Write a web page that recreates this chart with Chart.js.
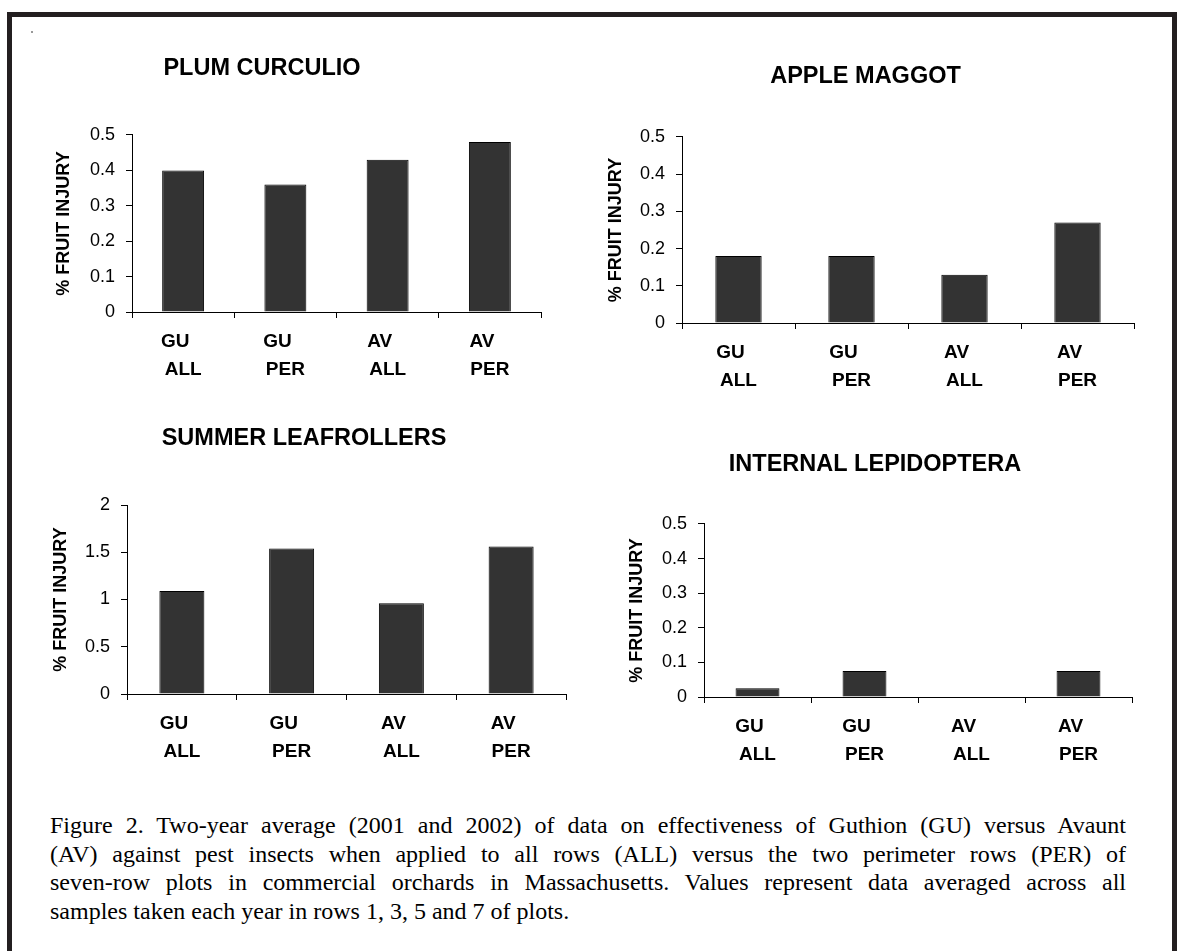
<!DOCTYPE html>
<html>
<head>
<meta charset="utf-8">
<script src="https://cdn.jsdelivr.net/npm/chart.js@4.4.1/dist/chart.umd.min.js"></script>
<style>
  html, body { margin: 0; padding: 0; background: #fff; overflow: hidden; }
  body { width: 1177px; height: 951px; position: relative; }
  #frame { position: absolute; left: 7px; top: 12px; width: 1160px; height: 1000px; border: 5px solid #231f20; }
  #dot { position: absolute; left: 31px; top: 31px; width: 2px; height: 2px; background: #999; }
  canvas { position: absolute; }
  #caption { position: absolute; left: 50px; top: 811px; width: 1076px; color: #000;
    font-family: "Liberation Serif", "Times New Roman", serif; font-size: 24px; line-height: 28.5px; }
  #caption div { text-align: justify; text-align-last: justify; white-space: nowrap; }
  #caption div.last { text-align-last: left; }
</style>
</head>
<body>
<div id="frame"></div>
<div id="dot"></div>
<canvas id="plum"></canvas>
<canvas id="maggot"></canvas>
<canvas id="leafrollers"></canvas>
<canvas id="lepidoptera"></canvas>
<div id="caption">
  <div>Figure 2. Two-year average (2001 and 2002) of data on effectiveness of Guthion (GU) versus Avaunt</div>
  <div>(AV) against pest insects when applied to all rows (ALL) versus the two perimeter rows (PER) of</div>
  <div>seven-row plots in commercial orchards in Massachusetts. Values represent data averaged across all</div>
  <div class="last">samples taken each year in rows 1, 3, 5 and 7 of plots.</div>
</div>
<script>
// categories (two-line labels) and % fruit injury per panel
const categories = [['GU', 'ALL'], ['GU', 'PER'], ['AV', 'ALL'], ['AV', 'PER']];
const plumCurculio = [0.40, 0.36, 0.43, 0.48];
const appleMaggot = [0.18, 0.18, 0.13, 0.27];
const summerLeafrollers = [1.09, 1.54, 0.96, 1.56];
const internalLepidoptera = [0.025, 0.075, 0, 0.075];

// y tick labels
const smallTicks = [0, 0.1, 0.2, 0.3, 0.4, 0.5];
const leafrollerTicks = [0, 0.5, 1, 1.5, 2];

const sans = '"Liberation Sans", Arial, sans-serif';
const titleSize = 23.5;

// box = canvas rect, area = wanted plot area (page px)
function makeChart(id, titleText, values, tickVals, box, area, titleY, yTitleX) {
    const cv = document.getElementById(id);
    cv.width = box.r - box.l;
    cv.height = box.b - box.t;
    cv.style.left = box.l + 'px';
    cv.style.top = box.t + 'px';

    const tLine = titleSize * 1.2;
    const padTop = titleY - box.t - tLine / 2;
    const padBottom = area.t - box.t - padTop - tLine;

    return new Chart(cv, {
        type: 'bar',
        data: {
            labels: categories,
            datasets: [{
                data: values,
                backgroundColor: '#333333',
                borderColor: '#000',
                borderWidth: 1,
                barPercentage: 0.41,
                categoryPercentage: 1
            }]
        },
        options: {
            responsive: false,
            animation: false,
            devicePixelRatio: 1,
            layout: { padding: { left: 0, right: box.r - area.r, top: 0, bottom: 0 } },
            plugins: {
                legend: { display: false },
                tooltip: { enabled: false },
                title: {
                    display: true,
                    text: titleText,
                    color: '#000',
                    font: { family: sans, size: titleSize, weight: 'bold', lineHeight: 1.2 },
                    padding: { top: padTop, bottom: padBottom }
                }
            },
            scales: {
                x: {
                    grid: { drawOnChartArea: false, drawTicks: true, tickLength: 6, color: '#000', offset: true },
                    border: { color: '#000', width: 1 },
                    ticks: {
                        color: '#000',
                        font: { family: sans, size: 19, weight: 'bold', lineHeight: '28px' },
                        padding: 10,
                        maxRotation: 0,
                        autoSkip: false,
                        callback: (val, i) => [categories[i][0] + '   ', categories[i][1]]
                    },
                    afterFit: (s) => { s.height = box.b - area.b; }
                },
                y: {
                    min: tickVals[0],
                    max: tickVals[tickVals.length - 1],
                    grid: { drawOnChartArea: false, drawTicks: true, tickLength: 6, color: '#000' },
                    border: { color: '#000', width: 1 },
                    ticks: { color: '#000', font: { family: sans, size: 18 }, padding: 11, callback: (v) => String(v) },
                    afterBuildTicks: (s) => { s.ticks = tickVals.map(v => ({ value: v })); },
                    title: {
                        display: true,
                        text: '% FRUIT INJURY',
                        color: '#000',
                        font: { family: sans, size: 18, weight: 'bold', lineHeight: 1.2 },
                        padding: { top: yTitleX - box.l - 10.8, bottom: 0 }
                    },
                    afterFit: (s) => { s.width = area.l - box.l; }
                }
            }
        }
    });
}

makeChart('plum', 'PLUM CURCULIO', plumCurculio, smallTicks,
    { l: -17, r: 551, t: 25, b: 400 }, { l: 132, r: 541, t: 135, b: 312 }, 69, 64);
makeChart('maggot', 'APPLE MAGGOT', appleMaggot, smallTicks,
    { l: 597, r: 1146, t: 25, b: 410 }, { l: 682, r: 1134, t: 137, b: 323 }, 77, 616);
makeChart('leafrollers', 'SUMMER LEAFROLLERS', summerLeafrollers, leafrollerTicks,
    { l: 42, r: 588, t: 410, b: 785 }, { l: 127, r: 566, t: 505, b: 694 }, 439, 61);
makeChart('lepidoptera', 'INTERNAL LEPIDOPTERA', internalLepidoptera, smallTicks,
    { l: 618, r: 1140, t: 420, b: 790 }, { l: 704, r: 1132, t: 524, b: 697 }, 465, 637);
</script>
</body>
</html>
